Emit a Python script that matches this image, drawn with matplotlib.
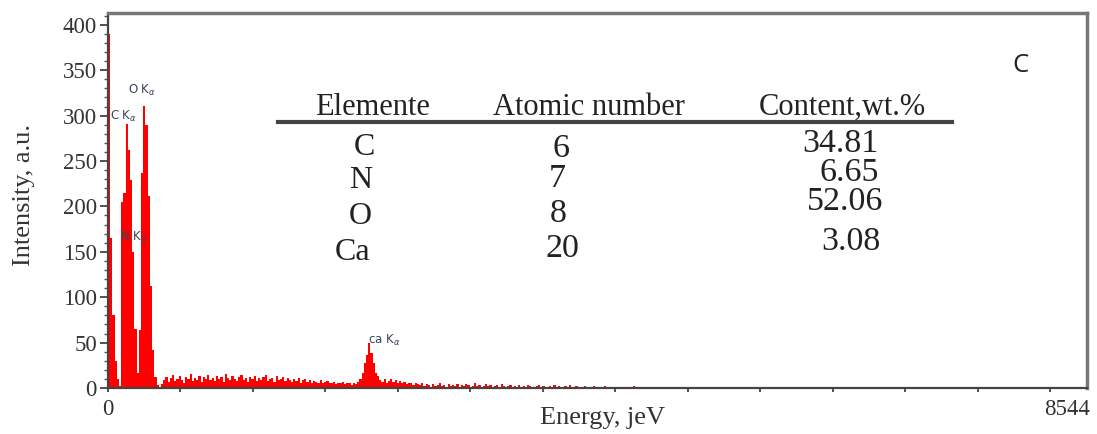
import numpy as np
import matplotlib
matplotlib.use("Agg")
import matplotlib.pyplot as plt
from matplotlib.lines import Line2D
from matplotlib.transforms import ScaledTranslation

# EDS spectrum, counts per 20 eV channel
channel_width = 20
counts = [
    390, 165, 80, 30, 10, 2, 205, 215, 291, 262, 229, 150, 65, 16, 64, 237, 311, 290, 211, 112, 42, 12, 3, 0, 4,
    9, 12, 7, 11, 14, 8, 10, 13, 9, 6, 12, 10, 15, 8, 11, 9, 13, 7, 12, 10,
    14, 9, 11, 8, 13, 10, 12, 7, 15, 11, 9, 13, 10, 8, 12, 14, 9, 11, 7, 12,
    10, 13, 8, 11, 9, 12, 14, 8, 10, 11, 7, 13, 9, 10, 12, 8, 11, 9, 7, 10,
    8, 11, 6, 9, 10, 7, 9, 5, 8, 7, 6, 9, 5, 7, 8, 6, 5, 7, 4, 6,
    5, 7, 4, 6, 5, 3, 6, 4, 7,
    10, 16, 28, 36, 50, 38, 27, 17, 13,
    9, 7, 10, 6, 8, 10, 7, 9, 6, 8, 5, 7, 4, 6, 5, 3, 5, 4,
    3, 5, 2, 4, 3, 1, 4, 2, 3, 5, 2, 3, 1, 4, 2, 3, 2, 4, 1, 3,
    2, 4, 3, 1, 2, 5, 2, 3, 1, 2, 4, 2, 3, 1, 2, 3, 1, 4, 2, 1,
    2, 3, 1, 2, 0, 3, 1, 2, 1, 3, 2, 1, 0, 2, 3, 1, 2, 1, 0, 2,
    1, 3, 1, 2, 0, 1, 2, 1, 3, 1, 0, 2, 1, 1, 0, 2, 1, 0, 1, 2,
    0, 1, 1, 0, 2, 0, 1, 0, 1, 0, 0, 1, 0, 0, 0,
    0, 0, 2, 0, 0,
]
edges = np.arange(len(counts) + 1) * channel_width

# peak labels: (text, energy, intensity)
peak_names = ["O K$_{\\alpha}$", "C K$_{\\alpha}$", "N K$_{\\alpha}$", "ca K$_{\\alpha}$"]
peak_energy = [181, 18, 109, 2358]
peak_height = [328, 299, 166, 52]

# table
headers = ["Elemente", "Atomic number", "Content,wt.%"]
elements = ["C", "N", "O", "Ca"]
atomic_numbers = ["6", "7", "8", "20"]
contents = ["34.81", "6.65", "52.06", "3.08"]

x_end = 8544
W, H = 1097, 434
serif = "Liberation Serif"

fig = plt.figure(figsize=(W / 100, H / 100), dpi=100)
ax = fig.add_axes([108 / W, 46 / H, 979 / W, 375 / H])

ax.stairs(counts, edges, fill=True, color="#ff0000", linewidth=0)

ax.set_xlim(0, x_end * 979 / 942)
ax.set_ylim(0, 413)

# ticks
ax.set_yticks(np.arange(0, 401, 50))
ax.set_yticks(np.arange(0, 411, 10), minor=True)
xt = np.linspace(0, x_end, 14)
ax.set_xticks(xt)
ax.set_xticklabels(["0"] + [""] * 12 + [str(x_end)])
ax.tick_params(axis="y", which="major", length=6, width=1.2, pad=2, labelsize=16.5, colors="#333333")
ax.tick_params(axis="y", which="minor", length=3, width=1, colors="#555555")
ax.tick_params(axis="x", which="major", length=3, width=1.2, pad=5, labelsize=16.5, colors="#333333")
for lbl in ax.get_xticklabels() + ax.get_yticklabels():
    lbl.set_family(serif)
lbl = ax.get_xticklabels()[-1]
lbl.set_transform(lbl.get_transform() + ScaledTranslation(0.17, 0, fig.dpi_scale_trans))

for side in ["left", "bottom"]:
    ax.spines[side].set_color("#444444")
    ax.spines[side].set_linewidth(1.6)
for side in ["top", "right"]:
    ax.spines[side].set_color("#777777")
    ax.spines[side].set_linewidth(2.5)

for name, e, h in zip(peak_names, peak_energy, peak_height):
    ax.text(e, h, name, fontsize=8.5, color="#3c4456", ha="left", va="center",
            family="DejaVu Sans")


def fpos(x, y):
    return x / W, 1 - y / H


fig.text(*fpos(24, 195), "Intensity, a.u.", rotation=90, ha="center", va="center",
         fontsize=19, family=serif, color="#333333")
fig.text(*fpos(602, 424), "Energy, jeV", ha="center", va="baseline",
         fontsize=19, family=serif, color="#333333")

# table drawn inside the plot
header_x = [373, 589, 842]
for name, x in zip(headers, header_x):
    fig.text(*fpos(x, 115), name, ha="center", va="baseline", fontsize=22,
             family=serif, color="#222222")
fig.add_artist(Line2D([278 / W, 952 / W], [1 - 121.5 / H] * 2, lw=3, color="#444444"))

col1_x = [364, 361, 360, 353]
col1_y = [155, 188, 224, 260]
col2_x = [561, 557, 558, 562]
col2_y = [157, 187, 222, 257]
col3_x = [879, 879, 883, 880]
col3_y = [152, 181, 210, 250]
for i in range(len(elements)):
    fig.text(*fpos(col1_x[i], col1_y[i]), elements[i], ha="center", va="baseline",
             fontsize=23, family=serif, color="#222222")
    fig.text(*fpos(col2_x[i], col2_y[i]), atomic_numbers[i], ha="center", va="baseline",
             fontsize=24.5, family=serif, color="#222222")
    fig.text(*fpos(col3_x[i], col3_y[i]), contents[i], ha="right", va="baseline",
             fontsize=24.5, family=serif, color="#222222")

fig.text(*fpos(1020, 66), "C", ha="center", va="center", fontsize=18.5,
         family="Open Sans", color="#222222")

fig.savefig("out.png", dpi=100)
